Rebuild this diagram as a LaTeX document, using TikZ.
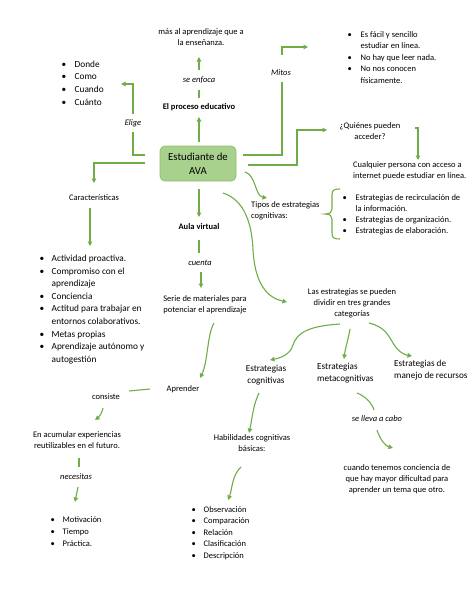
\documentclass[tikz,border=0pt]{standalone}
\usepackage{fontspec}
\setmainfont{Carlito}
\usetikzlibrary{arrows.meta,calc}
\definecolor{lgreen}{HTML}{70AD47}
\definecolor{boxfill}{HTML}{A9D18E}
\definecolor{boxdraw}{HTML}{8FBF6E}
\newcommand\bitem{\makebox[13pt][l]{\textbullet}}
\newcommand\bind{\hspace*{13pt}}
\newcommand\citem{\makebox[12pt][l]{\textbullet}}
\newcommand\cind{\hspace*{12pt}}
\begin{document}
\begin{tikzpicture}[x=1pt,y=-1pt,
  txt/.style={inner sep=0pt, font=\fontsize{8.5}{11}\selectfont, align=center},
  txtl/.style={inner sep=0pt, font=\fontsize{8.5}{11}\selectfont, align=left, anchor=west},
  bld/.style={inner sep=0pt, font=\fontsize{8.5}{11}\selectfont\bfseries},
  lab/.style={inner sep=0pt, font=\fontsize{8.5}{11}\selectfont\itshape},
  lst/.style={inner sep=0pt, align=left, anchor=base west},
  cat/.style={inner sep=0pt, font=\fontsize{9.2}{12}\selectfont},
  con/.style={draw=lgreen, line width=1.1pt},
  arr/.style={con, -{Triangle[length=4.5pt,width=4.5pt]}},
]
\useasboundingbox[fill=white] (0,0) rectangle (474,613);

% ---------- nodes ----------
\node[txt] (mas) at (201,37) {más al aprendizaje que a\\la enseñanza.};
\node[lab] (enfoca) at (199,80) {se enfoca};
\node[bld] (proc) at (199,107) {El proceso educativo};
\node[draw=boxdraw, fill=boxfill, line width=0.8pt, rounded corners=5pt,
      minimum width=76pt, minimum height=35pt, inner sep=0pt, align=center,
      font=\fontsize{10.75}{14}\selectfont] (ava) at (198,163.5) {Estudiante de\\AVA};

% list nodes: anchor = baseline of the last line
\node[lst, font=\fontsize{9.3}{12.7}\selectfont] (dcc) at (61.5,105.1)
  {\bitem Donde\\\bitem Como\\\bitem Cuando\\\bitem Cuánto};
\node[lab] (elige) at (133,123) {Elige};

\node[txt] (car) at (94,198) {Características};
\node[lst, font=\fontsize{9.3}{12.6}\selectfont] (carl) at (39.5,362.3)
  {\citem Actividad proactiva.\\
   \citem Compromiso con el\\\cind aprendizaje\\
   \citem Conciencia\\
   \citem Actitud para trabajar en\\\cind entornos colaborativos.\\
   \citem Metas propias\\
   \citem Aprendizaje autónomo y\\\cind autogestión};

\node[bld] (aula) at (199,227) {Aula virtual};
\node[lab] (cuenta) at (200,263) {cuenta};
\node[txt] (serie) at (205,305) {Serie de materiales para\\potenciar el aprendizaje};
\node[txt] (apr) at (183,389) {Aprender};
\node[txt] (cons) at (106,397) {consiste};
\node[txt] (acum) at (77,440.5) {En acumular experiencias\\reutilizables en el futuro.};
\node[lab] (nec) at (76,477) {necesitas};
\node[lst, font=\fontsize{8.5}{12}\selectfont] (motl) at (50.5,546)
  {\citem Motivación\\\citem Tiempo\\\citem Práctica.};

\node[lab] (mitos) at (281,73) {Mitos};
\node[lst, font=\fontsize{8.5}{11.5}\selectfont] (mitl) at (347.5,83)
  {\bitem Es fácil y sencillo\\\bind estudiar en línea.\\
   \bitem No hay que leer nada.\\
   \bitem No nos conocen\\\bind físicamente.};

\node[txt] (quien) at (370,131.5) {¿Quiénes pueden\\acceder?};
\node[txtl] (cualq) at (353,170.5) {Cualquier persona con acceso a\\internet puede estudiar en línea.};

\node[txtl] (tipos) at (251,210.5) {Tipos de estrategias\\cognitivas:};
\node[lst, font=\fontsize{8.5}{11}\selectfont] (tipl) at (342.5,233)
  {\bitem Estrategias de recirculación de\\\bind la información.\\
   \bitem Estrategias de organización.\\
   \bitem Estrategias de elaboración.};

\node[txt] (las) at (352,303) {Las estrategias se pueden\\dividir en tres grandes\\categorías};
\node[cat, align=center] (ecog) at (266,375) {Estrategias\\cognitivas};
\node[cat, align=left, anchor=west] (emeta) at (317,373) {Estrategias\\metacognitivas};
\node[cat, align=left, anchor=west] (erec) at (394,370) {Estrategias de\\manejo de recursos};
\node[txt] (hab) at (252,443.5) {Habilidades cognitivas\\básicas:};
\node[lst, font=\fontsize{8.5}{11.5}\selectfont] (obsl) at (191.5,558)
  {\citem Observación\\\citem Comparación\\\citem Relación\\\citem Clasificación\\\citem Descripción};
\node[lab] (lleva) at (377,419) {se lleva a cabo};
\node[txt] (cuando) at (397,479) {cuando tenemos conciencia de\\que hay mayor dificultad para\\aprender un tema que otro.};

% ---------- connectors ----------
% up: proceso educativo
\draw[arr] (ava.north -| proc) ++(0,-4) -- (199,117);
\draw[con] (199,98) -- (199,90);
\draw[arr] (199,70) -- (199,57);
% Elige
\coordinate (eA) at (145,155);
\draw[con] (eA) -- (133,155) -- (133,132);
\draw[arr] (133,114) -- (133,84) -- (121,84);
% Caracteristicas
\coordinate (cA) at (145,163);
\draw[arr] (cA) -- (94,163) -- (94,183);
\draw[arr] (90,208) -- (90,246);
% Aula virtual
\draw[arr] (199,189) -- (199,217);
\draw[con] (199,240) -- (199,253);
\draw[arr] (201,272) -- (201,288);
% Serie -> Aprender
\draw[arr] (214,323) .. controls (207,335) and (208,362) .. (200,378);
\draw[con] (150,389) -- (129,391);
\draw[arr] (103,408) .. controls (102,413) and (99,417) .. (95,420);
\draw[con] (79,458) -- (79,467);
\draw[arr] (78,487) -- (75,502);
% Mitos
\coordinate (mA) at (243,155);
\draw[con] (mA) -- (282,155) -- (282,82);
\draw[arr] (282,55) -- (282,47) -- (308,47);
% Quienes
\coordinate (qA) at (248,165);
\draw[arr] (qA) -- (297,165) -- (297,130) -- (327,130);
\draw[arr] (415,128) -- (418,128) -- (418,160);
% Tipos
\draw[arr] (245,172) .. controls (256,175) and (255,196) .. (267,198);
% brace
\draw[con] (340,189) .. controls (334,189) and (332,190) .. (332,195) -- (332,209)
  .. controls (332,212) and (330,214) .. (325,214)
  .. controls (330,214) and (332,216) .. (332,219) -- (332,233)
  .. controls (332,238) and (334,239) .. (340,239);
% long curve to Las estrategias
\draw[arr] (223,193) .. controls (245,200) and (252,225) .. (253,250)
  .. controls (255,285) and (268,298) .. (287,302);
% three categories
\draw[arr] (340,324) .. controls (310,326) and (297,332) .. (293,345)
  .. controls (290,355) and (280,358) .. (270,360);
\draw[arr] (350,329) .. controls (348,340) and (345,350) .. (344,359);
\draw[arr] (369,323) .. controls (385,327) and (388,335) .. (393,343)
  .. controls (398,352) and (405,355) .. (412,356);
% cognitivas -> habilidades -> list
\draw[arr] (259,393) .. controls (253,405) and (252,420) .. (249,433);
\draw[arr] (241,467) .. controls (232,475) and (232,490) .. (228,500);
% metacognitivas -> se lleva a cabo -> cuando
\draw[con] (357,393) .. controls (365,396) and (372,403) .. (374,410);
\draw[arr] (377,430) .. controls (380,440) and (386,446) .. (393,448);
\end{tikzpicture}
\end{document}
